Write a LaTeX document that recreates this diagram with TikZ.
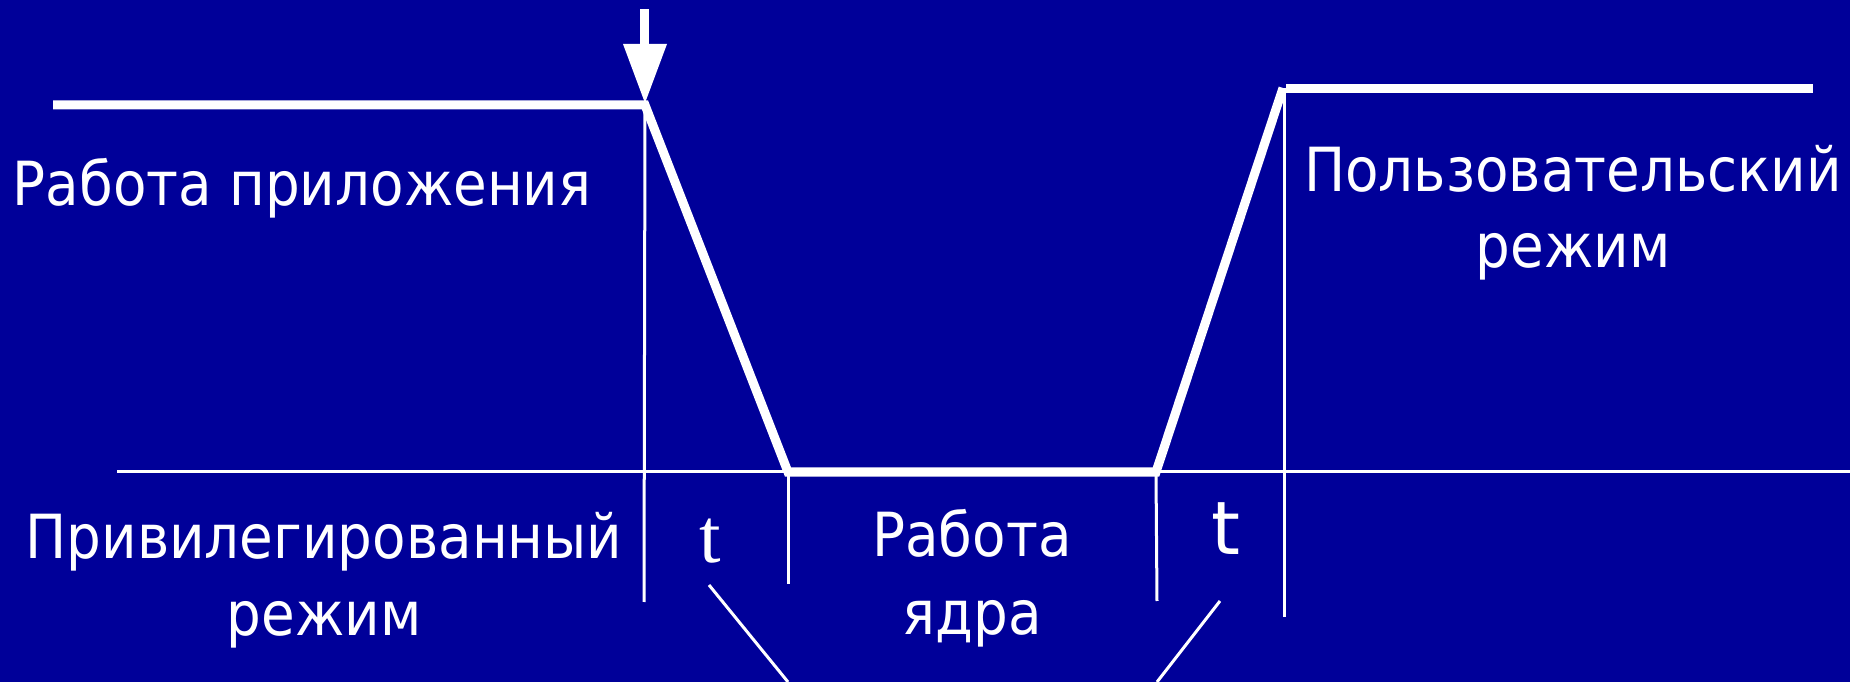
\documentclass[tikz,border=0pt]{standalone}
\usepackage{fontspec}
\setmainfont{DejaVu Sans}[FakeStretch=0.9]
\newfontfamily\tserif{Liberation Serif}
\newfontfamily\tsans{DejaVu Sans}
\definecolor{bgblue}{RGB}{0,0,153}
\begin{document}
\begin{tikzpicture}[x=0.01cm,y=-0.01cm,
  thickline/.style={white,line width=0.09cm},
  thinline/.style={white,line width=0.03cm},
  lbl/.style={text=white,inner sep=0pt,anchor=base,font=\fontsize{17.3}{22}\selectfont}]
\fill[bgblue] (0,0) rectangle (1850,682);
\useasboundingbox (0,0) rectangle (1850,682);
% key points
\coordinate (a0) at (53,105);
\coordinate (a1) at (645,105);
\coordinate (b0) at (788,472);
\coordinate (b1) at (1156,472);
\coordinate (c0) at (1283,88);
\coordinate (c1) at (1286,89);
\coordinate (c2) at (1813,89);
% thin axis lines
\draw[thinline] (117,472) -- (1850,472);
\draw[thinline] (a1) -- (644,602);
\draw[thinline] (b0) -- (788,584);
\draw[thinline] (b1) -- (1157,601);
\draw[thinline] (1284,88) -- (1284,617);
% diagonal pointers
\draw[thinline] (709,585) -- (788,682);
\draw[thinline] (1220,601) -- (1157,682);
% signal
\draw[thickline,line join=miter] (a0) -- (a1) -- (b0) -- (b1) -- (c0);
\draw[thickline] (c1) -- (c2);
% arrow
\fill[white] (640,9) rectangle (649,46);
\fill[white] (623,44) -- (667,44) -- (645,103) -- cycle;
% labels
\node[lbl] (app) at (302,206) {Работа приложения};
\node[lbl] (priv1) at (324,558) {Привилегированный};
\node[lbl] (priv2) at (324,636) {режим};
\node[lbl] (kern1) at (972,557) {Работа};
\node[lbl] (kern2) at (972,635) {ядра};
\node[lbl] (user1) at (1573,192) {Пользовательский};
\node[lbl] (user2) at (1573,268) {режим};
\node[text=white,inner sep=0pt,anchor=base,font=\tserif\fontsize{22}{24}\selectfont] (t1) at (710,563) {t};
\node[text=white,inner sep=0pt,anchor=base,font=\tsans\fontsize{21}{24}\selectfont] (t2) at (1226,555) {t};
\end{tikzpicture}
\end{document}
